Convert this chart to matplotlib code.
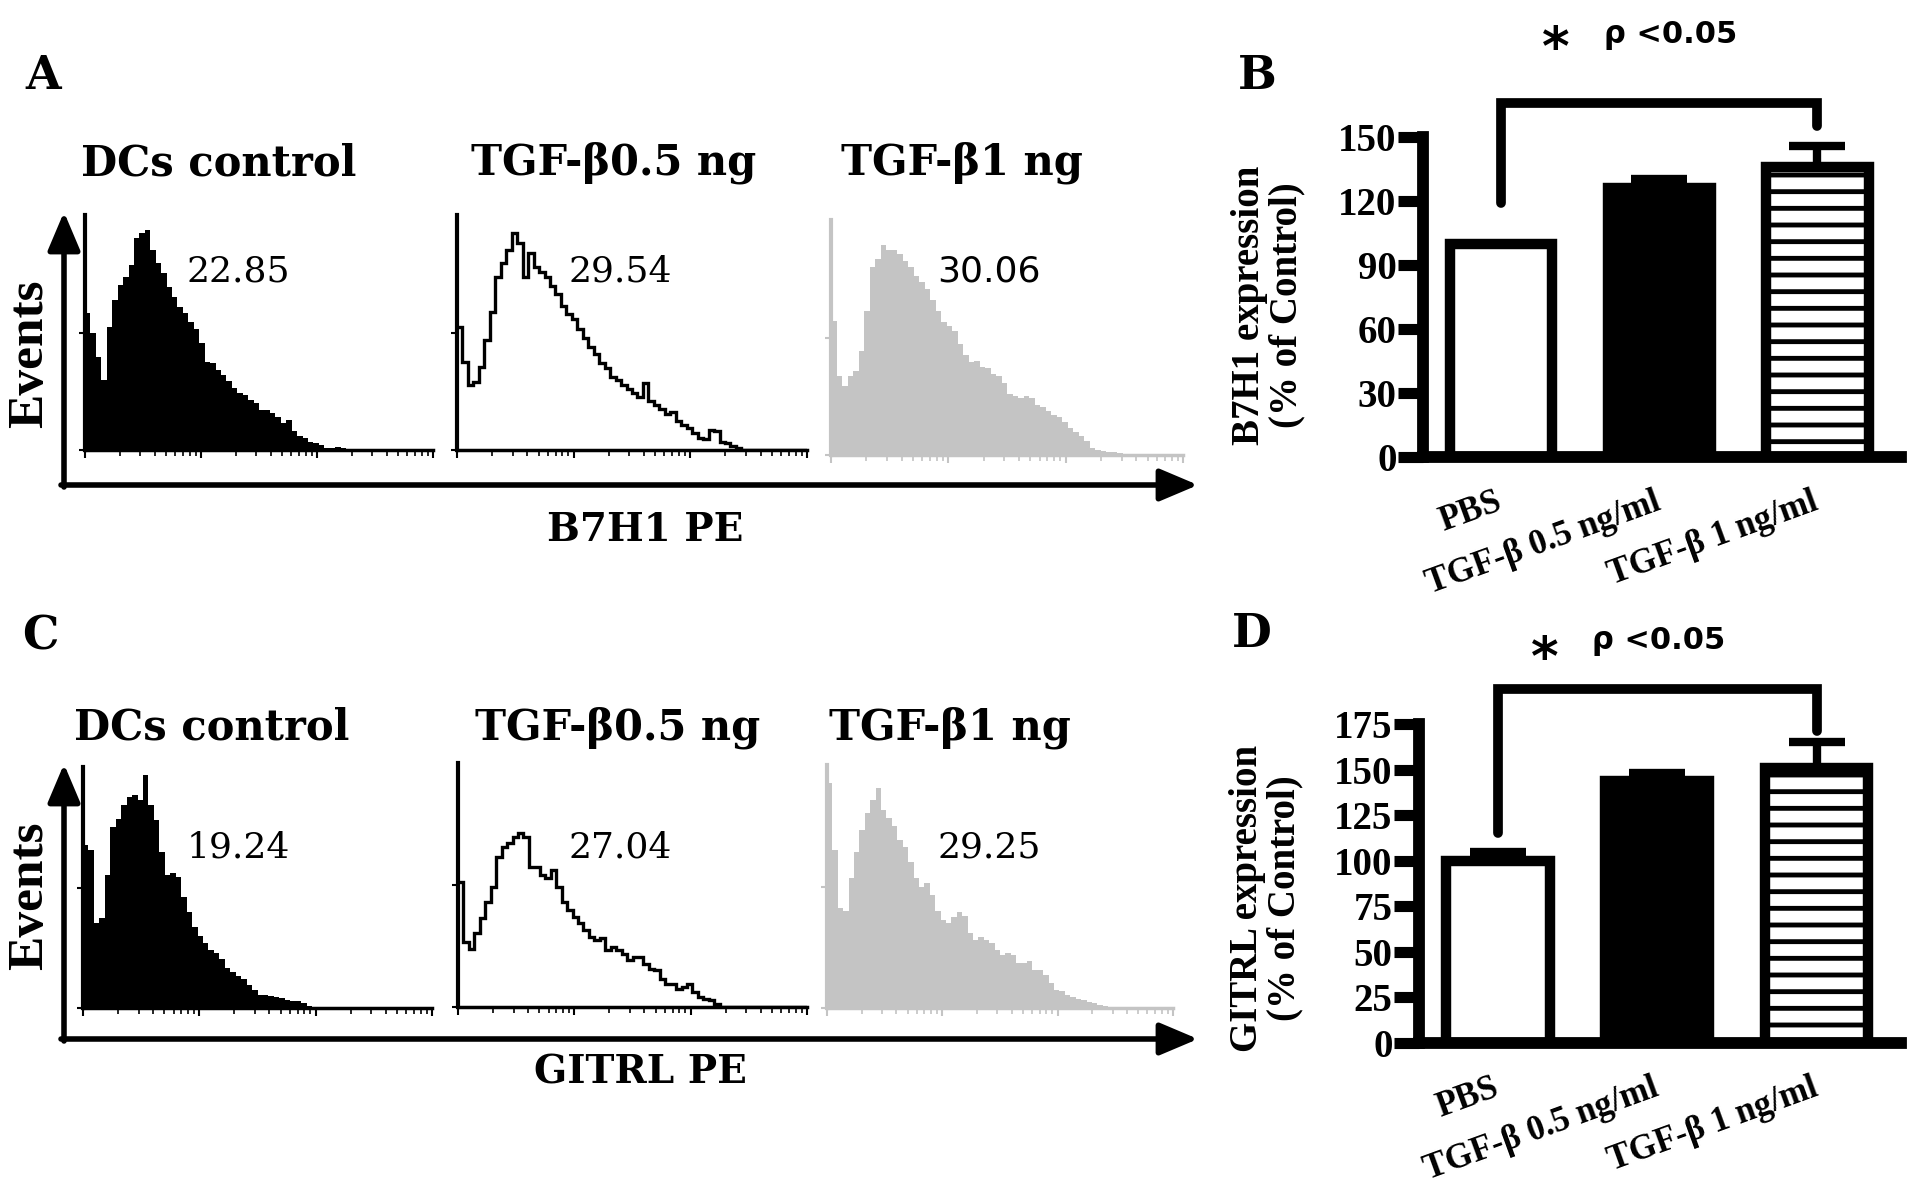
import numpy as np
import matplotlib
matplotlib.use("Agg")
import matplotlib.pyplot as plt
from matplotlib.ticker import LogLocator, NullFormatter

# ---------------- data ----------------
hist_titles = ["DCs control", "TGF-β0.5 ng", "TGF-β1 ng"]
b7h1_pcts = ["22.85", "29.54", "30.06"]
gitrl_pcts = ["19.24", "27.04", "29.25"]

b7h1_control = [410, 350, 280, 210, 370, 450, 495, 520, 555, 635, 650, 660, 600, 560, 530, 490,
                460, 430, 410, 385, 362, 320, 265, 262, 240, 225, 208, 185, 170, 165, 150, 140,
                120, 120, 110, 100, 82, 90, 58, 42, 36, 25, 20, 14, 6, 5, 8, 5,
                3, 2, 3, 2, 2, 2, 3, 2, 2, 2, 2, 3, 2, 2, 2, 3]
b7h1_tgf05 = [370, 265, 195, 205, 250, 330, 415, 520, 560, 600, 650, 620, 520, 590, 548, 535,
              520, 492, 468, 432, 408, 393, 362, 335, 308, 287, 262, 245, 218, 210, 195, 183,
              170, 160, 200, 148, 136, 122, 108, 115, 88, 75, 65, 50, 36, 32, 60, 58,
              25, 20, 13, 6, 0, 0, 0, 0, 0, 0, 0, 0, 0, 0, 0, 0]
b7h1_tgf1 = [400, 235, 205, 235, 250, 310, 430, 560, 585, 625, 612, 610, 600, 578, 560, 532,
             515, 495, 462, 430, 395, 383, 368, 330, 298, 278, 280, 262, 258, 240, 235, 213,
             182, 175, 170, 176, 170, 150, 142, 132, 120, 112, 98, 80, 68, 58, 42, 20,
             15, 12, 10, 8, 5, 4, 3, 3, 2, 2, 2, 2, 2, 2, 2, 2]
gitrl_control = [490, 475, 255, 270, 400, 545, 570, 610, 635, 640, 625, 700, 610, 565, 470, 400,
                 405, 395, 335, 290, 245, 218, 195, 175, 165, 148, 120, 108, 96, 88, 68, 55,
                 38, 38, 35, 34, 30, 25, 20, 22, 15, 6, 3, 2, 2, 2, 2, 2,
                 2, 2, 2, 2, 2, 2, 2, 2, 2, 2, 2, 2, 2, 2, 2, 2]
gitrl_tgf05 = [375, 195, 175, 220, 265, 315, 360, 450, 480, 490, 510, 522, 510, 420, 420, 395,
               385, 410, 360, 315, 290, 270, 250, 230, 210, 200, 205, 170, 180, 170, 160, 142,
               150, 150, 130, 115, 110, 85, 70, 70, 55, 60, 70, 45, 30, 25, 22, 10,
               0, 0, 0, 0, 0, 0, 0, 0, 0, 0, 0, 0, 0, 0, 0, 0]
gitrl_tgf1 = [675, 475, 300, 290, 390, 470, 535, 585, 625, 660, 595, 570, 548, 505, 485, 440,
              390, 365, 375, 340, 290, 265, 255, 272, 288, 275, 225, 205, 212, 205, 195, 175,
              160, 165, 160, 135, 135, 140, 115, 115, 100, 75, 55, 52, 40, 32, 28, 25,
              18, 15, 8, 5, 3, 3, 2, 2, 2, 2, 2, 2, 2, 2, 2, 2]

bar_groups = ["PBS", "TGF-β 0.5 ng/ml", "TGF-β 1 ng/ml"]
b7h1_means = [100, 126, 136]
b7h1_errs = [0, 4.5, 10]
gitrl_means = [100, 144, 151]
gitrl_errs = [5, 4, 14]
b7h1_yticks = [0, 30, 60, 90, 120, 150]
gitrl_yticks = [0, 25, 50, 75, 100, 125, 150, 175]
sig_text = "ρ <0.05"

# ---------------- figure ----------------
W, H = 1913, 1204
plt.rcParams['hatch.linewidth'] = 3.5
fig = plt.figure(figsize=(W / 100, H / 100), dpi=100)
fig.patch.set_facecolor("white")

SERIF = ["DejaVu Serif"]
TSERIF = ["Liberation Serif", "DejaVu Serif"]
SANS = ["DejaVu Sans"]


def rect(x0, y0, x1, y1):
    return [x0 / W, 1 - y1 / H, (x1 - x0) / W, (y1 - y0) / H]


ov = fig.add_axes([0, 0, 1, 1], zorder=5)
ov.set_xlim(0, W)
ov.set_ylim(H, 0)
ov.axis("off")
ov.patch.set_alpha(0)

edges = np.logspace(0, 3, 65)


def hist_panel(box, counts, ymax, style):
    ax = fig.add_axes(rect(*box))
    col = {"black": "black", "outline": "black", "grey": "#c4c4c4"}[style]
    if style == "outline":
        ax.stairs(counts, edges, color="black", lw=2.4, baseline=None)
    else:
        ax.stairs(counts, edges, fill=True, color=col, lw=0)
    ax.set_xscale("log")
    ax.set_xlim(1, 1000)
    ax.set_ylim(0, ymax)
    for s in ["top", "right"]:
        ax.spines[s].set_visible(False)
    ax.spines["left"].set_linewidth(3)
    ax.spines["bottom"].set_linewidth(2.5)
    ax.spines["left"].set_color(col)
    ax.spines["bottom"].set_color(col)
    ax.xaxis.set_major_locator(LogLocator(base=10, numticks=10))
    ax.xaxis.set_minor_locator(LogLocator(base=10, subs=np.arange(2, 10), numticks=10))
    ax.xaxis.set_major_formatter(NullFormatter())
    ax.xaxis.set_minor_formatter(NullFormatter())
    ax.tick_params(axis="x", which="major", length=6, width=1.5, color=col, direction="out")
    ax.tick_params(axis="x", which="minor", length=4, width=1.2, color=col, direction="out")
    ax.set_yticks([0, ymax / 2])
    ax.set_yticklabels([])
    ax.tick_params(axis="y", length=4, width=1.5, color=col)
    ax.patch.set_alpha(0)
    return ax


# Row A
hist_panel((85, 215, 433, 450), b7h1_control, 705, "black")
hist_panel((457, 215, 807, 450), b7h1_tgf05, 705, "outline")
hist_panel((831, 220, 1183, 455), b7h1_tgf1, 700, "grey")
# Row C
hist_panel((83, 767, 432, 1008), gitrl_control, 725, "black")
hist_panel((458, 763, 807, 1007), gitrl_tgf05, 730, "outline")
hist_panel((827, 765, 1173, 1008), gitrl_tgf1, 730, "grey")

# arrows
ap = dict(arrowstyle="-|>,head_length=1.3,head_width=0.55", lw=4, color="black",
          mutation_scale=18, shrinkA=0, shrinkB=0)
for (xv, ybot, ytop) in [(64, 487, 212), (64, 1041, 764)]:
    ov.annotate("", xy=(xv, ytop), xytext=(xv, ybot), arrowprops=ap)
    ov.annotate("", xy=(1198, ybot - 2), xytext=(61, ybot - 2), arrowprops=ap)

# texts for histogram panels
for lab, (x, y) in zip("ABCD", [(43, 76), (1257, 76), (40, 636), (1252, 634)]):
    ov.text(x, y, lab, family=SERIF, weight="bold", fontsize=33, ha="center", va="center")

for row_y, xs in [(163, [219, 614, 962]), (728, [212, 618, 950])]:
    for t, x in zip(hist_titles, xs):
        ov.text(x, row_y, t, family=SERIF, weight="bold", fontsize=30, ha="center", va="center")

for y in [354, 896]:
    ov.text(30, y, "Events", family=TSERIF, weight="bold", fontsize=37, rotation=90,
            ha="center", va="center")
ov.text(645, 530, "B7H1 PE", family=SERIF, weight="bold", fontsize=28, ha="center", va="center")
ov.text(640, 1072, "GITRL PE", family=SERIF, weight="bold", fontsize=28, ha="center", va="center")

for vals, y in [(b7h1_pcts, 272), (gitrl_pcts, 847)]:
    for i, (v, x) in enumerate(zip(vals, [238, 620, 989])):
        fam = SANS if (i == 2 and y == 272) else SERIF
        ov.text(x, y, v, family=fam, fontsize=26, ha="center", va="center")


# ---------------- bar charts ----------------
def bar_panel(box, means, errs, yticks, ymax, ylabel, ylab_pos, bracket, star_pos):
    ax = fig.add_axes(rect(*box))
    x = np.arange(len(means))
    ax.bar(x[0], means[0], width=0.65, color="white", edgecolor="black", lw=7.5)
    ax.bar(x[1], means[1], width=0.65, color="black", edgecolor="black", lw=7.5)
    ax.bar(x[2], means[2], width=0.65, color="white", edgecolor="black", lw=7.5, hatch="-")
    ax.errorbar(x, means, yerr=[[0] * len(errs), errs], fmt="none", ecolor="black",
                elinewidth=6, capsize=20, capthick=6, clip_on=False, zorder=3)
    ax.plot([x[0], x[0], x[2], x[2]], bracket, color="black", lw=7,
            solid_capstyle="round", solid_joinstyle="miter", clip_on=False)
    ax.set_xlim(-0.494, 2.53)
    ax.set_ylim(0, ymax)
    for s in ["top", "right"]:
        ax.spines[s].set_visible(False)
    for s in ["left", "bottom"]:
        ax.spines[s].set_linewidth(8.5)
        ax.spines[s].set_capstyle("projecting")
    ax.set_yticks(yticks)
    ax.set_yticklabels([str(v) for v in yticks], family=TSERIF, weight="bold", fontsize=28)
    ax.tick_params(axis="y", length=18, width=8, pad=1)
    ax.set_xticks(x)
    ax.set_xticklabels(bar_groups, family=TSERIF, weight="bold", fontsize=25, rotation=20,
                       ha="right", va="center", rotation_mode="anchor")
    ax.tick_params(axis="x", length=0, pad=32)
    ax.patch.set_alpha(0)
    ov.text(ylab_pos[0], ylab_pos[1], ylabel, family=TSERIF, weight="bold", fontsize=28,
            rotation=90, ha="center", va="center", multialignment="center", linespacing=1.0)
    ov.text(star_pos[0], star_pos[1] + 10, "*", family=SANS, weight="bold", fontsize=38,
            ha="center", va="center")
    ov.text(star_pos[2], star_pos[3], sig_text, family=SANS, weight="bold", fontsize=22,
            ha="center", va="center")
    return ax


bar_panel((1423, 137, 1901, 457), b7h1_means, b7h1_errs, b7h1_yticks, 150,
          "B7H1 expression\n(% of Control)", (1268, 305), [119, 166, 166, 155],
          (1556, 40, 1671, 35))
bar_panel((1419, 724, 1901, 1043), gitrl_means, gitrl_errs, gitrl_yticks, 175,
          "GITRL expression\n(% of Control)", (1266, 898), [115, 194, 194, 171],
          (1545, 650, 1659, 641))

fig.savefig("out.png", dpi=100, facecolor="white")
